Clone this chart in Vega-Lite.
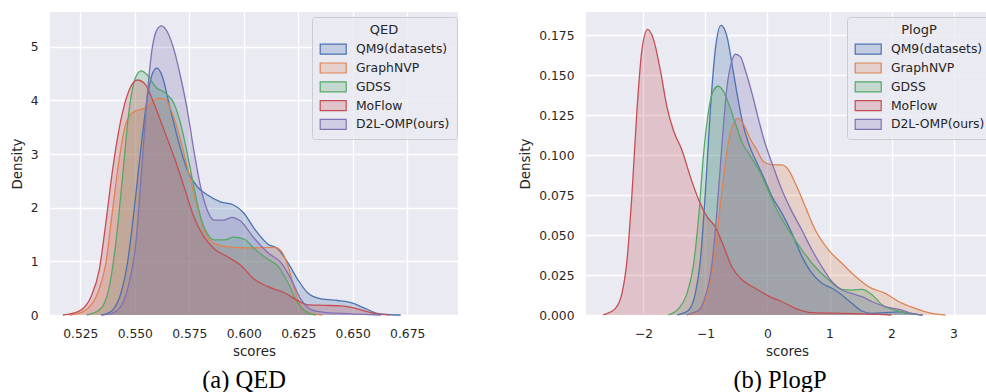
{
"$schema": "https://vega.github.io/schema/vega-lite/v6.json",
"background": "white",
"padding": {"left": 10, "top": 12, "right": 0, "bottom": 0},
"spacing": 60,
"config": {
  "view": {"fill": "#EAEAF2", "stroke": null},
  "axis": {"grid": true, "gridColor": "white", "gridWidth": 1.3, "ticks": false, "domain": false, "labelFont": "DejaVu Sans", "labelFontSize": 12.3, "labelColor": "#262626", "titleFont": "DejaVu Sans", "titleFontSize": 13.4, "titleFontWeight": "normal", "titleColor": "#262626"},
  "axisX": {"labelPadding": 12, "titlePadding": 5},
  "axisY": {"labelPadding": 12, "titlePadding": 6},
  "legend": {"titleFont": "DejaVu Sans", "titleFontSize": 13, "titleFontWeight": "normal", "titleColor": "#262626", "titleAnchor": "middle", "titleAlign": "center", "labelFont": "DejaVu Sans", "labelFontSize": 12.4, "labelColor": "#262626", "labelOffset": 24.5, "labelLimit": 300, "padding": 7, "rowPadding": 2.8, "titlePadding": 6, "fillColor": "rgba(234,234,242,0.8)", "strokeColor": "#CCCCCC", "cornerRadius": 3}
},
"datasets": {
"qed": [
{"m":"QM9(datasets)","s":0.5345,"d":0},{"m":"QM9(datasets)","s":0.5367,"d":0.02},{"m":"QM9(datasets)","s":0.5398,"d":0.09},{"m":"QM9(datasets)","s":0.5436,"d":0.40},{"m":"QM9(datasets)","s":0.5466,"d":0.96},{"m":"QM9(datasets)","s":0.5497,"d":1.96},{"m":"QM9(datasets)","s":0.5527,"d":3.07},{"m":"QM9(datasets)","s":0.5558,"d":4.07},{"m":"QM9(datasets)","s":0.5581,"d":4.50},{"m":"QM9(datasets)","s":0.5601,"d":4.60},{"m":"QM9(datasets)","s":0.5627,"d":4.44},{"m":"QM9(datasets)","s":0.5657,"d":3.94},{"m":"QM9(datasets)","s":0.5695,"d":3.32},{"m":"QM9(datasets)","s":0.5741,"d":2.70},{"m":"QM9(datasets)","s":0.5787,"d":2.39},{"m":"QM9(datasets)","s":0.5832,"d":2.24},{"m":"QM9(datasets)","s":0.5893,"d":2.11},{"m":"QM9(datasets)","s":0.5954,"d":2.05},{"m":"QM9(datasets)","s":0.6000,"d":1.90},{"m":"QM9(datasets)","s":0.6050,"d":1.60},{"m":"QM9(datasets)","s":0.6111,"d":1.32},{"m":"QM9(datasets)","s":0.6157,"d":1.23},{"m":"QM9(datasets)","s":0.6203,"d":0.97},{"m":"QM9(datasets)","s":0.6248,"d":0.66},{"m":"QM9(datasets)","s":0.6294,"d":0.41},{"m":"QM9(datasets)","s":0.6355,"d":0.30},{"m":"QM9(datasets)","s":0.6431,"d":0.27},{"m":"QM9(datasets)","s":0.6492,"d":0.23},{"m":"QM9(datasets)","s":0.6553,"d":0.13},{"m":"QM9(datasets)","s":0.6614,"d":0.03},{"m":"QM9(datasets)","s":0.6675,"d":0.005},{"m":"QM9(datasets)","s":0.672,"d":0},
{"m":"GraphNVP","s":0.5200,"d":0},{"m":"GraphNVP","s":0.5223,"d":0.01},{"m":"GraphNVP","s":0.5284,"d":0.12},{"m":"GraphNVP","s":0.5329,"d":0.40},{"m":"GraphNVP","s":0.5367,"d":0.96},{"m":"GraphNVP","s":0.5398,"d":1.96},{"m":"GraphNVP","s":0.5428,"d":2.89},{"m":"GraphNVP","s":0.5459,"d":3.57},{"m":"GraphNVP","s":0.5497,"d":3.79},{"m":"GraphNVP","s":0.5543,"d":3.85},{"m":"GraphNVP","s":0.5573,"d":3.94},{"m":"GraphNVP","s":0.5611,"d":4.04},{"m":"GraphNVP","s":0.5642,"d":4.01},{"m":"GraphNVP","s":0.5672,"d":3.76},{"m":"GraphNVP","s":0.5710,"d":3.26},{"m":"GraphNVP","s":0.5748,"d":2.64},{"m":"GraphNVP","s":0.5787,"d":2.02},{"m":"GraphNVP","s":0.5825,"d":1.52},{"m":"GraphNVP","s":0.5863,"d":1.34},{"m":"GraphNVP","s":0.5924,"d":1.27},{"m":"GraphNVP","s":0.6015,"d":1.25},{"m":"GraphNVP","s":0.6142,"d":1.26},{"m":"GraphNVP","s":0.6172,"d":1.19},{"m":"GraphNVP","s":0.6203,"d":0.91},{"m":"GraphNVP","s":0.6233,"d":0.47},{"m":"GraphNVP","s":0.6264,"d":0.16},{"m":"GraphNVP","s":0.6309,"d":0.03},{"m":"GraphNVP","s":0.636,"d":0},
{"m":"GDSS","s":0.5280,"d":0},{"m":"GDSS","s":0.5299,"d":0.02},{"m":"GDSS","s":0.5345,"d":0.12},{"m":"GDSS","s":0.5383,"d":0.53},{"m":"GDSS","s":0.5413,"d":1.34},{"m":"GDSS","s":0.5444,"d":2.58},{"m":"GDSS","s":0.5474,"d":3.82},{"m":"GDSS","s":0.5505,"d":4.44},{"m":"GDSS","s":0.5530,"d":4.55},{"m":"GDSS","s":0.5558,"d":4.47},{"m":"GDSS","s":0.5596,"d":4.25},{"m":"GDSS","s":0.5642,"d":4.13},{"m":"GDSS","s":0.5680,"d":3.94},{"m":"GDSS","s":0.5710,"d":3.57},{"m":"GDSS","s":0.5741,"d":3.01},{"m":"GDSS","s":0.5771,"d":2.39},{"m":"GDSS","s":0.5802,"d":1.83},{"m":"GDSS","s":0.5832,"d":1.52},{"m":"GDSS","s":0.5863,"d":1.40},{"m":"GDSS","s":0.5909,"d":1.40},{"m":"GDSS","s":0.5954,"d":1.45},{"m":"GDSS","s":0.6000,"d":1.42},{"m":"GDSS","s":0.6050,"d":1.23},{"m":"GDSS","s":0.6111,"d":1.04},{"m":"GDSS","s":0.6157,"d":0.91},{"m":"GDSS","s":0.6203,"d":0.60},{"m":"GDSS","s":0.6248,"d":0.22},{"m":"GDSS","s":0.6294,"d":0.04},{"m":"GDSS","s":0.633,"d":0},
{"m":"MoFlow","s":0.5170,"d":0},{"m":"MoFlow","s":0.5192,"d":0.01},{"m":"MoFlow","s":0.5253,"d":0.09},{"m":"MoFlow","s":0.5299,"d":0.34},{"m":"MoFlow","s":0.5337,"d":0.84},{"m":"MoFlow","s":0.5367,"d":1.71},{"m":"MoFlow","s":0.5398,"d":2.70},{"m":"MoFlow","s":0.5436,"d":3.63},{"m":"MoFlow","s":0.5474,"d":4.19},{"m":"MoFlow","s":0.5512,"d":4.38},{"m":"MoFlow","s":0.5550,"d":4.29},{"m":"MoFlow","s":0.5588,"d":3.94},{"m":"MoFlow","s":0.5634,"d":3.45},{"m":"MoFlow","s":0.5680,"d":2.95},{"m":"MoFlow","s":0.5726,"d":2.39},{"m":"MoFlow","s":0.5771,"d":1.83},{"m":"MoFlow","s":0.5817,"d":1.46},{"m":"MoFlow","s":0.5863,"d":1.24},{"m":"MoFlow","s":0.5924,"d":1.09},{"m":"MoFlow","s":0.5985,"d":0.93},{"m":"MoFlow","s":0.6050,"d":0.66},{"m":"MoFlow","s":0.6111,"d":0.53},{"m":"MoFlow","s":0.6188,"d":0.41},{"m":"MoFlow","s":0.6256,"d":0.25},{"m":"MoFlow","s":0.6294,"d":0.19},{"m":"MoFlow","s":0.6370,"d":0.18},{"m":"MoFlow","s":0.6447,"d":0.17},{"m":"MoFlow","s":0.6508,"d":0.13},{"m":"MoFlow","s":0.6569,"d":0.06},{"m":"MoFlow","s":0.6630,"d":0.01},{"m":"MoFlow","s":0.667,"d":0},
{"m":"D2L-OMP(ours)","s":0.5350,"d":0},{"m":"D2L-OMP(ours)","s":0.5375,"d":0.01},{"m":"D2L-OMP(ours)","s":0.5421,"d":0.09},{"m":"D2L-OMP(ours)","s":0.5466,"d":0.47},{"m":"D2L-OMP(ours)","s":0.5505,"d":1.34},{"m":"D2L-OMP(ours)","s":0.5535,"d":2.89},{"m":"D2L-OMP(ours)","s":0.5558,"d":4.13},{"m":"D2L-OMP(ours)","s":0.5581,"d":5.0},{"m":"D2L-OMP(ours)","s":0.5601,"d":5.31},{"m":"D2L-OMP(ours)","s":0.5622,"d":5.39},{"m":"D2L-OMP(ours)","s":0.5649,"d":5.28},{"m":"D2L-OMP(ours)","s":0.5680,"d":4.94},{"m":"D2L-OMP(ours)","s":0.5710,"d":4.44},{"m":"D2L-OMP(ours)","s":0.5741,"d":3.82},{"m":"D2L-OMP(ours)","s":0.5771,"d":3.07},{"m":"D2L-OMP(ours)","s":0.5802,"d":2.39},{"m":"D2L-OMP(ours)","s":0.5832,"d":1.96},{"m":"D2L-OMP(ours)","s":0.5863,"d":1.77},{"m":"D2L-OMP(ours)","s":0.5909,"d":1.77},{"m":"D2L-OMP(ours)","s":0.5947,"d":1.82},{"m":"D2L-OMP(ours)","s":0.5985,"d":1.75},{"m":"D2L-OMP(ours)","s":0.6046,"d":1.44},{"m":"D2L-OMP(ours)","s":0.6111,"d":1.16},{"m":"D2L-OMP(ours)","s":0.6172,"d":0.97},{"m":"D2L-OMP(ours)","s":0.6218,"d":0.66},{"m":"D2L-OMP(ours)","s":0.6264,"d":0.28},{"m":"D2L-OMP(ours)","s":0.6309,"d":0.10},{"m":"D2L-OMP(ours)","s":0.6370,"d":0.05},{"m":"D2L-OMP(ours)","s":0.6450,"d":0.03},{"m":"D2L-OMP(ours)","s":0.6550,"d":0.01},{"m":"D2L-OMP(ours)","s":0.663,"d":0}
],
"plogp": [
{"m":"QM9(datasets)","s":-1.45,"d":0},{"m":"QM9(datasets)","s":-1.406,"d":0.0005},{"m":"QM9(datasets)","s":-1.272,"d":0.003},{"m":"QM9(datasets)","s":-1.164,"d":0.0135},{"m":"QM9(datasets)","s":-1.083,"d":0.034},{"m":"QM9(datasets)","s":-1.003,"d":0.076},{"m":"QM9(datasets)","s":-0.922,"d":0.128},{"m":"QM9(datasets)","s":-0.841,"d":0.166},{"m":"QM9(datasets)","s":-0.750,"d":0.181},{"m":"QM9(datasets)","s":-0.653,"d":0.174},{"m":"QM9(datasets)","s":-0.573,"d":0.157},{"m":"QM9(datasets)","s":-0.492,"d":0.1385},{"m":"QM9(datasets)","s":-0.411,"d":0.122},{"m":"QM9(datasets)","s":-0.304,"d":0.107},{"m":"QM9(datasets)","s":-0.169,"d":0.095},{"m":"QM9(datasets)","s":-0.05,"d":0.085},{"m":"QM9(datasets)","s":0.073,"d":0.074},{"m":"QM9(datasets)","s":0.234,"d":0.0635},{"m":"QM9(datasets)","s":0.395,"d":0.051},{"m":"QM9(datasets)","s":0.556,"d":0.0365},{"m":"QM9(datasets)","s":0.718,"d":0.026},{"m":"QM9(datasets)","s":0.879,"d":0.0198},{"m":"QM9(datasets)","s":1.04,"d":0.0167},{"m":"QM9(datasets)","s":1.2,"d":0.0125},{"m":"QM9(datasets)","s":1.36,"d":0.0073},{"m":"QM9(datasets)","s":1.52,"d":0.0025},{"m":"QM9(datasets)","s":1.69,"d":0.001},{"m":"QM9(datasets)","s":1.9,"d":0.0015},{"m":"QM9(datasets)","s":2.12,"d":0.0019},{"m":"QM9(datasets)","s":2.28,"d":0.001},{"m":"QM9(datasets)","s":2.44,"d":0.0002},{"m":"QM9(datasets)","s":2.5,"d":0},
{"m":"GraphNVP","s":-1.25,"d":0},{"m":"GraphNVP","s":-1.218,"d":0.0005},{"m":"GraphNVP","s":-1.057,"d":0.005},{"m":"GraphNVP","s":-0.949,"d":0.0156},{"m":"GraphNVP","s":-0.841,"d":0.0406},{"m":"GraphNVP","s":-0.734,"d":0.078},{"m":"GraphNVP","s":-0.626,"d":0.109},{"m":"GraphNVP","s":-0.546,"d":0.120},{"m":"GraphNVP","s":-0.476,"d":0.1229},{"m":"GraphNVP","s":-0.384,"d":0.119},{"m":"GraphNVP","s":-0.277,"d":0.110},{"m":"GraphNVP","s":-0.169,"d":0.103},{"m":"GraphNVP","s":-0.062,"d":0.0958},{"m":"GraphNVP","s":0.073,"d":0.0940},{"m":"GraphNVP","s":0.234,"d":0.0938},{"m":"GraphNVP","s":0.341,"d":0.0906},{"m":"GraphNVP","s":0.449,"d":0.0823},{"m":"GraphNVP","s":0.61,"d":0.0677},{"m":"GraphNVP","s":0.771,"d":0.0531},{"m":"GraphNVP","s":0.987,"d":0.0406},{"m":"GraphNVP","s":1.2,"d":0.0323},{"m":"GraphNVP","s":1.42,"d":0.024},{"m":"GraphNVP","s":1.63,"d":0.0177},{"m":"GraphNVP","s":1.9,"d":0.0135},{"m":"GraphNVP","s":2.12,"d":0.0083},{"m":"GraphNVP","s":2.38,"d":0.0042},{"m":"GraphNVP","s":2.65,"d":0.001},{"m":"GraphNVP","s":2.87,"d":0},
{"m":"GDSS","s":-1.6,"d":0},{"m":"GDSS","s":-1.567,"d":0.0005},{"m":"GDSS","s":-1.433,"d":0.004},{"m":"GDSS","s":-1.298,"d":0.0135},{"m":"GDSS","s":-1.191,"d":0.032},{"m":"GDSS","s":-1.110,"d":0.0615},{"m":"GDSS","s":-1.030,"d":0.101},{"m":"GDSS","s":-0.949,"d":0.128},{"m":"GDSS","s":-0.868,"d":0.1406},{"m":"GDSS","s":-0.798,"d":0.143},{"m":"GDSS","s":-0.707,"d":0.1396},{"m":"GDSS","s":-0.626,"d":0.132},{"m":"GDSS","s":-0.519,"d":0.120},{"m":"GDSS","s":-0.411,"d":0.108},{"m":"GDSS","s":-0.304,"d":0.101},{"m":"GDSS","s":-0.142,"d":0.0906},{"m":"GDSS","s":0.0,"d":0.079},{"m":"GDSS","s":0.126,"d":0.0677},{"m":"GDSS","s":0.341,"d":0.053},{"m":"GDSS","s":0.556,"d":0.0406},{"m":"GDSS","s":0.771,"d":0.030},{"m":"GDSS","s":0.987,"d":0.0219},{"m":"GDSS","s":1.2,"d":0.016},{"m":"GDSS","s":1.36,"d":0.0156},{"m":"GDSS","s":1.52,"d":0.016},{"m":"GDSS","s":1.69,"d":0.0125},{"m":"GDSS","s":1.85,"d":0.0063},{"m":"GDSS","s":2.06,"d":0.0031},{"m":"GDSS","s":2.28,"d":0.001},{"m":"GDSS","s":2.44,"d":0.0002},{"m":"GDSS","s":2.5,"d":0},
{"m":"MoFlow","s":-2.65,"d":0},{"m":"MoFlow","s":-2.616,"d":0.0005},{"m":"MoFlow","s":-2.455,"d":0.004},{"m":"MoFlow","s":-2.347,"d":0.0135},{"m":"MoFlow","s":-2.266,"d":0.034},{"m":"MoFlow","s":-2.185,"d":0.076},{"m":"MoFlow","s":-2.105,"d":0.128},{"m":"MoFlow","s":-2.024,"d":0.166},{"m":"MoFlow","s":-1.933,"d":0.1785},{"m":"MoFlow","s":-1.836,"d":0.172},{"m":"MoFlow","s":-1.728,"d":0.153},{"m":"MoFlow","s":-1.621,"d":0.130},{"m":"MoFlow","s":-1.513,"d":0.115},{"m":"MoFlow","s":-1.379,"d":0.103},{"m":"MoFlow","s":-1.245,"d":0.0865},{"m":"MoFlow","s":-1.110,"d":0.072},{"m":"MoFlow","s":-0.976,"d":0.0615},{"m":"MoFlow","s":-0.841,"d":0.055},{"m":"MoFlow","s":-0.707,"d":0.043},{"m":"MoFlow","s":-0.573,"d":0.030},{"m":"MoFlow","s":-0.411,"d":0.022},{"m":"MoFlow","s":-0.196,"d":0.0167},{"m":"MoFlow","s":0.019,"d":0.0118},{"m":"MoFlow","s":0.234,"d":0.0083},{"m":"MoFlow","s":0.449,"d":0.0042},{"m":"MoFlow","s":0.718,"d":0.0015},{"m":"MoFlow","s":1.25,"d":0.001},{"m":"MoFlow","s":1.79,"d":0.0004},{"m":"MoFlow","s":2.0,"d":0},
{"m":"D2L-OMP(ours)","s":-1.3,"d":0},{"m":"D2L-OMP(ours)","s":-1.272,"d":0.0005},{"m":"D2L-OMP(ours)","s":-1.110,"d":0.003},{"m":"D2L-OMP(ours)","s":-1.003,"d":0.0115},{"m":"D2L-OMP(ours)","s":-0.895,"d":0.032},{"m":"D2L-OMP(ours)","s":-0.814,"d":0.0656},{"m":"D2L-OMP(ours)","s":-0.734,"d":0.107},{"m":"D2L-OMP(ours)","s":-0.653,"d":0.1427},{"m":"D2L-OMP(ours)","s":-0.573,"d":0.159},{"m":"D2L-OMP(ours)","s":-0.519,"d":0.163},{"m":"D2L-OMP(ours)","s":-0.438,"d":0.1615},{"m":"D2L-OMP(ours)","s":-0.358,"d":0.153},{"m":"D2L-OMP(ours)","s":-0.250,"d":0.1385},{"m":"D2L-OMP(ours)","s":-0.142,"d":0.122},{"m":"D2L-OMP(ours)","s":-0.06,"d":0.110},{"m":"D2L-OMP(ours)","s":0.073,"d":0.0948},{"m":"D2L-OMP(ours)","s":0.234,"d":0.078},{"m":"D2L-OMP(ours)","s":0.395,"d":0.0646},{"m":"D2L-OMP(ours)","s":0.556,"d":0.053},{"m":"D2L-OMP(ours)","s":0.718,"d":0.0406},{"m":"D2L-OMP(ours)","s":0.879,"d":0.030},{"m":"D2L-OMP(ours)","s":1.04,"d":0.0208},{"m":"D2L-OMP(ours)","s":1.2,"d":0.0156},{"m":"D2L-OMP(ours)","s":1.36,"d":0.0135},{"m":"D2L-OMP(ours)","s":1.52,"d":0.0115},{"m":"D2L-OMP(ours)","s":1.69,"d":0.0083},{"m":"D2L-OMP(ours)","s":1.9,"d":0.0052},{"m":"D2L-OMP(ours)","s":2.12,"d":0.0035},{"m":"D2L-OMP(ours)","s":2.28,"d":0.0015},{"m":"D2L-OMP(ours)","s":2.44,"d":0.0002},{"m":"D2L-OMP(ours)","s":2.5,"d":0}
]
},
"resolve": {"scale": {"fill": "independent", "stroke": "independent"}, "legend": {"fill": "independent", "stroke": "independent"}},
"hconcat": [
{
  "width": 408, "height": 303,
  "title": {"text": "(a) QED", "orient": "bottom", "anchor": "middle", "font": "Liberation Serif", "fontSize": 24.5, "fontWeight": "normal", "color": "#000000", "offset": 11, "dx": -10},
  "data": {"name": "qed"},
  "encoding": {
    "x": {"field": "s", "type": "quantitative", "scale": {"domain": [0.5111, 0.6983], "nice": false, "zero": false}, "axis": {"title": "scores", "values": [0.525, 0.55, 0.575, 0.6, 0.625, 0.65, 0.675], "format": ".3f"}},
    "y": {"field": "d", "type": "quantitative", "stack": null, "scale": {"domain": [0, 5.647], "nice": false}, "axis": {"title": "Density", "values": [0, 1, 2, 3, 4, 5]}}
  },
  "layer": [
    {"mark": {"type": "area", "interpolate": "monotone"},
     "encoding": {"fill": {"field": "m", "type": "nominal", "sort": null,
       "scale": {"domain": ["QM9(datasets)", "GraphNVP", "GDSS", "MoFlow", "D2L-OMP(ours)"], "range": ["rgba(76,114,176,0.25)", "rgba(221,132,82,0.25)", "rgba(85,168,104,0.25)", "rgba(196,78,82,0.25)", "rgba(129,114,179,0.25)"]},
       "legend": {"title": "QED", "titleFontWeight": "normal", "orient": "none", "legendX": 262, "legendY": 5, "symbolType": "M-1,-1H4.2V1H-1Z", "symbolSize": 100, "symbolStrokeWidth": 1.2}}}},
    {"mark": {"type": "line", "interpolate": "monotone", "strokeWidth": 1.3},
     "encoding": {"stroke": {"field": "m", "type": "nominal", "sort": null,
       "scale": {"domain": ["QM9(datasets)", "GraphNVP", "GDSS", "MoFlow", "D2L-OMP(ours)"], "range": ["#4C72B0", "#DD8452", "#55A868", "#C44E52", "#8172B3"]},
       "legend": {"title": "QED", "titleFontWeight": "normal", "orient": "none", "legendX": 262, "legendY": 5, "symbolType": "M-1,-1H4.2V1H-1Z", "symbolSize": 100, "symbolStrokeWidth": 1.2}}}}
  ]
},
{
  "width": 402, "height": 303,
  "title": {"text": "(b) PlogP", "orient": "bottom", "anchor": "middle", "font": "Liberation Serif", "fontSize": 24.5, "fontWeight": "normal", "color": "#000000", "offset": 11, "dx": -7},
  "data": {"name": "plogp"},
  "encoding": {
    "x": {"field": "s", "type": "quantitative", "scale": {"domain": [-2.927, 3.556], "nice": false, "zero": false}, "axis": {"title": "scores", "values": [-2, -1, 0, 1, 2, 3], "format": "d"}},
    "y": {"field": "d", "type": "quantitative", "stack": null, "scale": {"domain": [0, 0.1894], "nice": false}, "axis": {"title": "Density", "values": [0, 0.025, 0.05, 0.075, 0.1, 0.125, 0.15, 0.175], "format": ".3f"}}
  },
  "layer": [
    {"mark": {"type": "area", "interpolate": "monotone"},
     "encoding": {"fill": {"field": "m", "type": "nominal", "sort": null,
       "scale": {"domain": ["QM9(datasets)", "GraphNVP", "GDSS", "MoFlow", "D2L-OMP(ours)"], "range": ["rgba(76,114,176,0.25)", "rgba(221,132,82,0.25)", "rgba(85,168,104,0.25)", "rgba(196,78,82,0.25)", "rgba(129,114,179,0.25)"]},
       "legend": {"title": "PlogP", "titleFontWeight": "normal", "orient": "none", "legendX": 261, "legendY": 5, "symbolType": "M-1,-1H4.2V1H-1Z", "symbolSize": 100, "symbolStrokeWidth": 1.2}}}},
    {"mark": {"type": "line", "interpolate": "monotone", "strokeWidth": 1.3},
     "encoding": {"stroke": {"field": "m", "type": "nominal", "sort": null,
       "scale": {"domain": ["QM9(datasets)", "GraphNVP", "GDSS", "MoFlow", "D2L-OMP(ours)"], "range": ["#4C72B0", "#DD8452", "#55A868", "#C44E52", "#8172B3"]},
       "legend": {"title": "PlogP", "titleFontWeight": "normal", "orient": "none", "legendX": 261, "legendY": 5, "symbolType": "M-1,-1H4.2V1H-1Z", "symbolSize": 100, "symbolStrokeWidth": 1.2}}}}
  ]
}
]
}
